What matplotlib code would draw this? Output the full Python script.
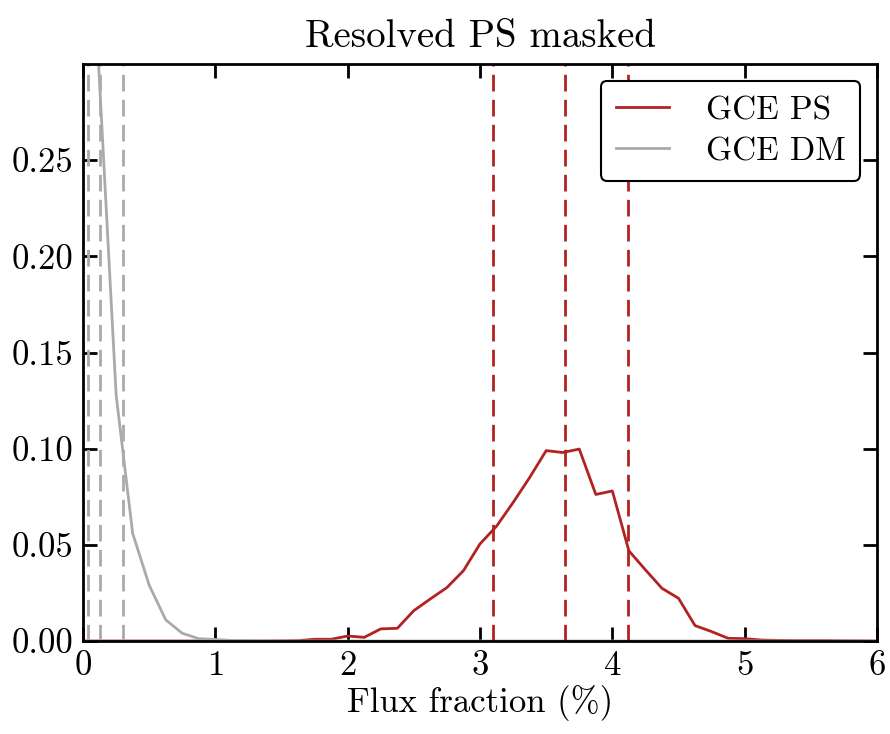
import numpy as np
import matplotlib
matplotlib.use("Agg")
import matplotlib.pyplot as plt

plt.rcParams['font.family'] = 'serif'
plt.rcParams['font.serif'] = ['cmr10']
plt.rcParams['mathtext.fontset'] = 'cm'
plt.rcParams['axes.formatter.use_mathtext'] = True

# bin centres (flux fraction in %)
flux = [0.0, 0.125, 0.25, 0.375, 0.5, 0.625, 0.75, 0.875, 1.0, 1.125, 1.25, 1.375,
        1.5, 1.625, 1.75, 1.875, 2.0, 2.125, 2.25, 2.375, 2.5, 2.625, 2.75, 2.875,
        3.0, 3.125, 3.25, 3.375, 3.5, 3.625, 3.75, 3.875, 4.0, 4.125, 4.25, 4.375,
        4.5, 4.625, 4.75, 4.875, 5.0, 5.125, 5.25, 5.375, 5.5, 5.625, 5.75, 5.875, 6.0]

gce_ps = [0.0, 0.0, 0.0, 0.0, 0.0, 0.0, 0.0, 0.0, 0.0, 0.0, 0.0, 0.0,
          0.0001, 0.0002, 0.0009, 0.0009, 0.0026, 0.0019, 0.0063, 0.0066, 0.0158, 0.0219, 0.0278, 0.0366,
          0.0505, 0.0597, 0.072, 0.085, 0.099, 0.098, 0.0998, 0.0762, 0.078, 0.0469, 0.037, 0.0274,
          0.0222, 0.008, 0.0049, 0.0014, 0.0012, 0.0005, 0.0003, 0.0002, 0.0002, 0.0002, 0.0001, 0.0001, 0.0]

gce_dm = [0.45, 0.29, 0.128, 0.056, 0.029, 0.011, 0.004, 0.0012, 0.0008, 0.0003, 0.0002, 0.0001,
          0.0001, 0.0, 0.0, 0.0, 0.0, 0.0, 0.0, 0.0, 0.0, 0.0, 0.0, 0.0,
          0.0, 0.0, 0.0, 0.0, 0.0, 0.0, 0.0, 0.0, 0.0, 0.0, 0.0, 0.0,
          0.0, 0.0, 0.0, 0.0, 0.0, 0.0, 0.0, 0.0, 0.0, 0.0, 0.0, 0.0, 0.0]

# 16th / 50th / 84th percentiles
ps_quantiles = [3.10, 3.64, 4.12]
dm_quantiles = [0.035, 0.13, 0.305]

red = '#b22222'
grey = '#aaaaaa'

fig = plt.figure(figsize=(8.9, 7.34), dpi=100)
ax = fig.add_axes([0.0933, 0.1267, 0.8921, 0.7861])

ax.plot(flux, gce_ps, color=red, lw=2, label='GCE PS')
ax.plot(flux, gce_dm, color=grey, lw=2, label='GCE DM')
for q in ps_quantiles:
    ax.axvline(q, color=red, lw=2, linestyle=(0, (6, 3)))
for q in dm_quantiles:
    ax.axvline(q, color=grey, lw=2, linestyle=(0, (6, 3)))

ax.set_xlim(0, 6)
ax.set_ylim(0, 0.3)
ax.set_yticks([0.0, 0.05, 0.10, 0.15, 0.20, 0.25])
ax.set_yticklabels(['0.00', '0.05', '0.10', '0.15', '0.20', '0.25'])
ax.set_xticks([0, 1, 2, 3, 4, 5, 6])
ax.tick_params(direction='in', top=True, right=True, length=10, width=2, labelsize=25, pad=7)
for s in ax.spines.values():
    s.set_linewidth(2)

ax.set_xlabel('Flux fraction (%)', fontsize=25, labelpad=2)
ax.set_title('Resolved PS masked', fontsize=28, pad=12)

leg = ax.legend(loc='upper right', fontsize=24, frameon=True, fancybox=True,
                handlelength=1.6, borderpad=0.45, labelspacing=0.35, handletextpad=1.1,
                borderaxespad=0.5)
leg.get_frame().set_edgecolor('black')
leg.get_frame().set_linewidth(1.5)
leg.get_frame().set_alpha(1)

fig.savefig('out.png', dpi=100)
